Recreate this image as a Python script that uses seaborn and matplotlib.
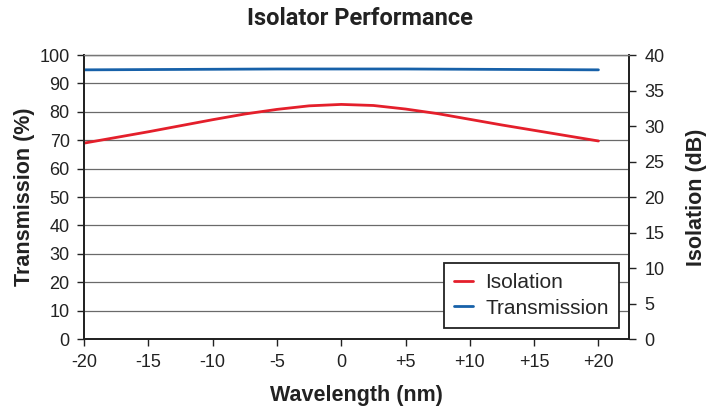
import matplotlib.pyplot as plt
import pandas as pd
import seaborn as sns

# values
wavelength = [-20, -17.5, -15, -12.5, -10, -7.5, -5, -2.5, 0,
              2.5, 5, 7.5, 10, 12.5, 15, 17.5, 20]
isolation_db = [27.6, 28.4, 29.2, 30.05, 30.9, 31.7, 32.35, 32.85, 33.05,
                32.9, 32.4, 31.75, 30.95, 30.15, 29.4, 28.65, 27.9]
transmission_pct = [94.8, 94.85, 94.9, 94.95, 95.0, 95.05, 95.1, 95.1, 95.1,
                    95.1, 95.1, 95.05, 95.0, 94.95, 94.9, 94.85, 94.8]
x_ticks = [-20, -15, -10, -5, 0, 5, 10, 15, 20]
x_ticklabels = ["-20", "-15", "-10", "-5", "0", "+5", "+10", "+15", "+20"]

RED = "#e41f2b"
BLUE = "#1761a9"

sns.set_theme(style="white")
plt.rcParams["font.family"] = ["Liberation Sans", "DejaVu Sans"]

df = pd.DataFrame({"wl": wavelength, "iso": isolation_db, "tr": transmission_pct})

fig = plt.figure(figsize=(7.2, 4.11), dpi=100)
ax = fig.add_axes([0.116, 0.175, 0.758, 0.691])
ax2 = ax.twinx()

sns.lineplot(data=df, x="wl", y="tr", ax=ax, color=BLUE, linewidth=2.0,
             label="Transmission", legend=False)
sns.lineplot(data=df, x="wl", y="iso", ax=ax2, color=RED, linewidth=2.0,
             label="Isolation", legend=False)

ax.set_xlim(-20.05, 22.4)
ax.set_ylim(0, 100)
ax2.set_ylim(0, 40)
ax.set_yticks(range(0, 101, 10))
ax2.set_yticks(range(0, 41, 5))
ax.set_xticks(x_ticks)
ax.set_xticklabels(x_ticklabels)

for y in range(10, 101, 10):
    ax.axhline(y, color="#6a6a6a", linewidth=0.9, zorder=0)

for a in (ax, ax2):
    for s in a.spines.values():
        s.set_color("#222222")
        s.set_linewidth(1.3)
    a.spines["top"].set_color("#777777")
    a.spines["top"].set_linewidth(0.9)

ax.tick_params(axis="both", which="major", direction="out", length=5,
               width=1.0, color="#222222", labelsize=13, pad=5,
               labelcolor="#222222")
ax.tick_params(axis="y", left=True, right=False)
ax.tick_params(axis="x", bottom=True, pad=6)
ax2.tick_params(axis="y", right=True, direction="out", length=5, width=1.0,
                color="#222222", labelsize=13, pad=6, labelcolor="#222222")

ax.set_xlabel("Wavelength (nm)", fontsize=15.5, fontweight="bold",
              color="#222222", labelpad=10)
ax.set_ylabel("Transmission (%)", fontsize=15.5, fontweight="bold",
              color="#222222", labelpad=3)
ax2.set_ylabel("Isolation (dB)", fontsize=15.5, fontweight="bold",
               color="#222222", labelpad=15.5)
fig.suptitle("Isolator Performance", x=0.5, y=0.982, fontsize=17,
             fontweight="bold", color="#222222",
             family=["Roboto", "DejaVu Sans"])

h1, l1 = ax2.get_legend_handles_labels()
h2, l2 = ax.get_legend_handles_labels()
leg = ax2.legend(h1 + h2, l1 + l2, loc="lower right",
                 bbox_to_anchor=(0.982, 0.039), fontsize=15, frameon=True,
                 fancybox=False, edgecolor="#222222", framealpha=1,
                 handlelength=0.9, handletextpad=0.6, borderpad=0.5,
                 labelspacing=0.3, borderaxespad=0)
leg.get_frame().set_linewidth(1.3)

fig.savefig("out.png", dpi=100)
